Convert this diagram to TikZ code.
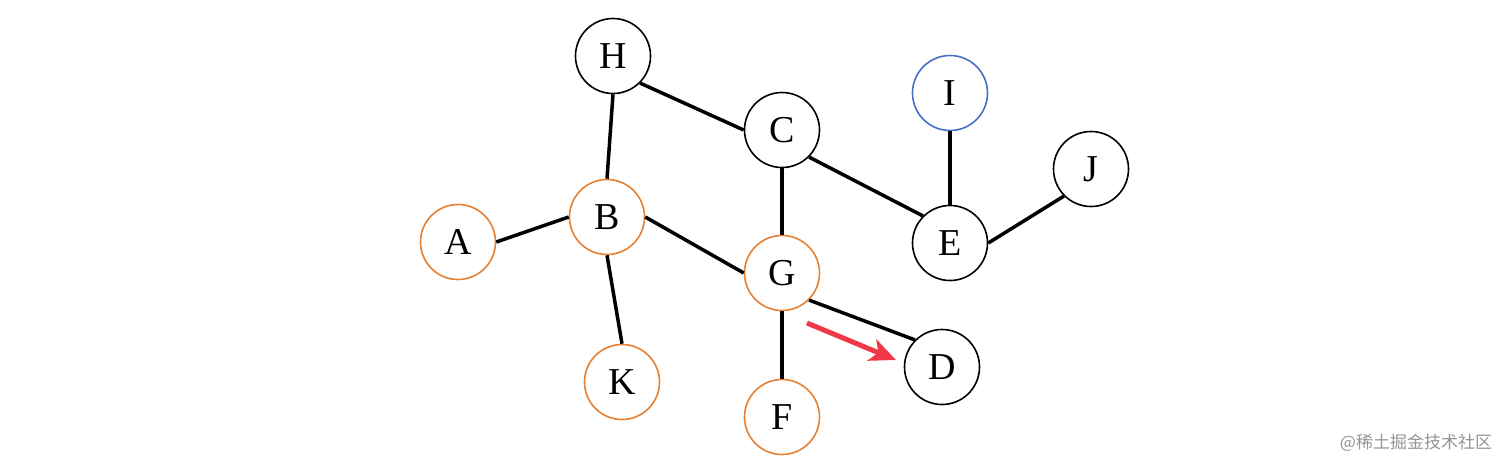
\documentclass[tikz,border=0pt]{standalone}
\usepackage{fontspec}
\setmainfont{Liberation Serif}
\newfontfamily\cjkfont{Noto Sans CJK SC}
\usetikzlibrary{arrows.meta}
\definecolor{vorange}{RGB}{230,128,50}
\definecolor{vblue}{RGB}{70,112,200}
\definecolor{vred}{RGB}{240,56,72}
\tikzset{
  vtx/.style={circle, draw=black, line width=1.6pt, minimum size=75pt, inner sep=0pt, font=\fontsize{38}{38}\selectfont},
  ovtx/.style={vtx, draw=vorange},
  bvtx/.style={vtx, draw=vblue},
  edge/.style={line width=3.5pt}
}
\begin{document}
\begin{tikzpicture}[x=1pt,y=-1pt]
    \useasboundingbox (0,0) rectangle (1512,472);
    \node[vtx]  (H) at (613,56)  {H};
    \node[vtx]  (C) at (782,130) {C};
    \node[bvtx] (I) at (950,93)  {I};
    \node[vtx]  (J) at (1091,169) {J};
    \node[ovtx] (A) at (458,242) {A};
    \node[ovtx] (B) at (607,217) {B};
    \node[vtx]  (E) at (950,243) {E};
    \node[ovtx] (G) at (782,273) {G};
    \node[vtx]  (D) at (942,367) {D};
    \node[ovtx] (K) at (622,382) {K};
    \node[ovtx] (F) at (782,417) {F};

    \draw[edge] (H.south east) -- (C.west);
    \draw[edge] (H.south) -- (B.north);
    \draw[edge] (A.east) -- (B.west);
    \draw[edge] (B.south) -- (K.north);
    \draw[edge] (B.east) -- (G.west);
    \draw[edge] (C.south) -- (G.north);
    \draw[edge] (C.south east) -- (E.north west);
    \draw[edge] (G.south) -- (F.north);
    \draw[edge] (G.south east) -- (D.north west);
    \draw[edge] (I.south) -- (E.north);
    \draw[edge] (E.east) -- (J.south west);

    \coordinate (s) at (807,323);
    \coordinate (t) at (896,360);
    \draw[vred, line width=5pt, -{Stealth[length=26pt,width=23pt,inset=7pt]}] (s) -- (t);

    \node[text=black!42, font=\cjkfont\fontsize{17}{17}\selectfont] (wm) at (1416,443) {@稀土掘金技术社区};
\end{tikzpicture}
\end{document}
